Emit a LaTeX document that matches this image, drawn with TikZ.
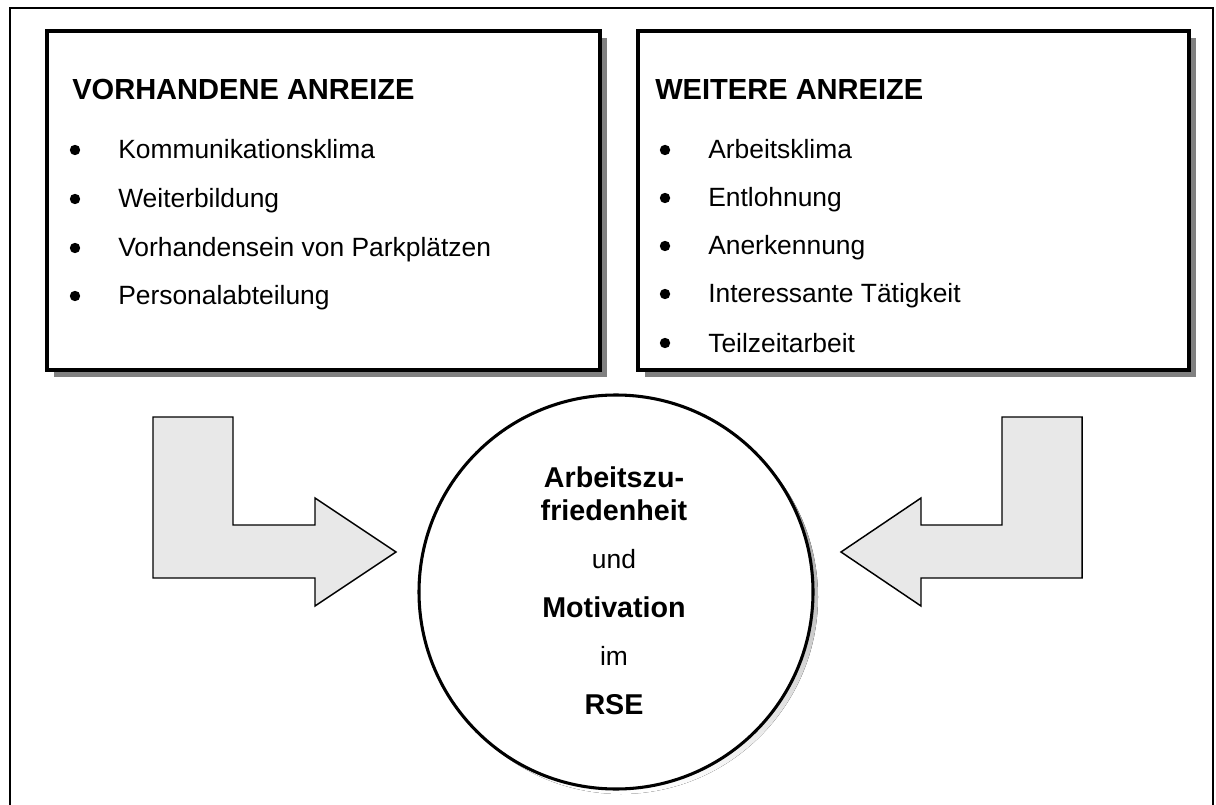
\documentclass[tikz,border=0pt]{standalone}
\usepackage{fontspec}
\setmainfont{Liberation Sans}
\definecolor{shade}{HTML}{808080}
\definecolor{arrowfill}{HTML}{E8E8E8}
\begin{document}
\begin{tikzpicture}[x=0.75pt,y=-0.75pt,
  frame/.style={draw, line width=1.1pt},
  panel/.style={draw, line width=2.3pt, fill=white},
  panelshadow/.style={fill=shade, draw=none},
  bendarrow/.style={draw, line width=1.1pt, fill=arrowfill, line join=miter},
  heading/.style={font=\fontsize{21.8}{26}\selectfont\bfseries, anchor=base west, inner sep=0pt},
  item/.style={font=\fontsize{19.8}{24}\selectfont, anchor=base west, inner sep=0pt},
  dot/.style={circle, fill, inner sep=0pt, minimum size=7.8pt},
  ctrbold/.style={font=\fontsize{21.5}{26}\selectfont\bfseries, anchor=base, inner sep=0pt},
  ctrplain/.style={font=\fontsize{19.8}{24}\selectfont, anchor=base, inner sep=0pt}]
\useasboundingbox (0,0) rectangle (1216,805);
\clip (0,0) rectangle (1216,805);

% outer frame
\draw[frame] (10,8) rectangle (1213,830);

% left panel
\fill[panelshadow] (54,38) rectangle (607,377);
\draw[panel] (47,31) rectangle (600,370);
\node[heading] (h1) at (72,100) {VORHANDENE ANREIZE};
\foreach \y/\t [count=\i] in {159/Kommunikationsklima, 208/Weiterbildung,
    257/Vorhandensein von Parkplätzen, 305/Personalabteilung} {
  \node[dot] (lb\i) at (75,\y-9) {};
  \node[item] (li\i) at (118,\y) {\t};
}

% right panel
\fill[panelshadow] (645,38) rectangle (1196,377);
\draw[panel] (638,31) rectangle (1189,370);
\node[heading] (h2) at (655,100) {WEITERE ANREIZE};
\foreach \y/\t [count=\i] in {159/Arbeitsklima, 207/Entlohnung, 255/Anerkennung,
    303/Interessante Tätigkeit, 352/Teilzeitarbeit} {
  \node[dot] (rb\i) at (665,\y-9) {};
  \node[item] (ri\i) at (708,\y) {\t};
}

% bent block arrows
\draw[bendarrow] (153,417) -- (233,417) -- (233,525) -- (315,525) -- (315,498)
  -- (396,552) -- (315,606) -- (315,578) -- (153,578) -- cycle;
\draw[bendarrow] (1082,417) -- (1002,417) -- (1002,525) -- (921,525) -- (921,498)
  -- (841,552) -- (921,606) -- (921,578) -- (1082,578) -- cycle;

% central circle
\fill[shade] (621,597) circle[radius=197];
\draw[panel] (616,592) circle[radius=197];
\node[ctrbold]  (c1) at (614,487) {Arbeitszu-};
\node[ctrbold]  (c2) at (614,520) {friedenheit};
\node[ctrplain] (c3) at (614,568) {und};
\node[ctrbold]  (c4) at (614,617) {Motivation};
\node[ctrplain] (c5) at (614,665) {im};
\node[ctrbold]  (c6) at (614,714) {RSE};
\end{tikzpicture}
\end{document}
